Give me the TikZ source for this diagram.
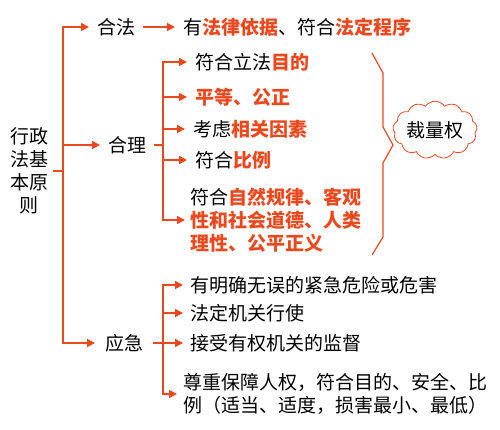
\documentclass[tikz,border=0pt]{standalone}
\usepackage{fontspec}
\setmainfont{Noto Sans CJK SC}
\usetikzlibrary{arrows.meta,shapes.symbols}
\definecolor{hot}{RGB}{236,72,30}
\newcommand{\rd}[1]{{\color{hot}\bfseries #1}}
\newcommand{\fs}{\fontsize{19}{23}\selectfont}
\begin{document}
\begin{tikzpicture}[x=1pt,y=-1pt,
  conn/.style={draw=hot, line width=1.6pt},
  arr/.style={conn, -{Triangle[length=8pt,width=8pt]}},
  lbl/.style={anchor=west, inner xsep=8pt, inner ysep=1pt, font=\fs, align=left},
  ]
\useasboundingbox (0,0) rectangle (500,430);
% root
\node[font=\fs, align=center, inner xsep=5pt, inner ysep=0pt] (root) at (29,171) {行政\\法基\\本原\\则};
% level 1
\node[lbl] (hefa) at (89,27) {合法};
\node[lbl] (hefar) at (175,27) {有\rd{法律依据}、符合\rd{法定程序}};
\node[lbl] (heli) at (100,145) {合理};
\node[lbl, inner xsep=10pt] (yingji) at (95,343) {应急};
% heli items
\node[lbl] (l1) at (187,62) {符合立法\rd{目的}};
\node[lbl] (l2) at (187,97) {\rd{平等、公正}};
\node[lbl] (l3) at (185,129) {考虑\rd{相关因素}};
\node[lbl] (l4) at (187,160) {符合\rd{比例}};
\node[lbl, inner xsep=5pt] (l5) at (185,220) {符合\rd{自然规律、客观}\\\rd{性和社会道德、人类}\\\rd{理性、公平正义}};
% yingji items
\node[lbl, inner xsep=7pt] (y1) at (183,285) {有明确无误的紧急危险或危害};
\node[lbl, inner xsep=7pt] (y2) at (183,313) {法定机关行使};
\node[lbl, inner xsep=7pt] (y3) at (183,343) {接受有权机关的监督};
\node[lbl, inner xsep=6pt] (y4) at (177,394) {尊重保障人权，符合目的、安全、比\\例（适当、适度，损害最小、最低）};
% cloud
\node[cloud, draw=hot, line width=0.8pt, cloud puffs=13, cloud puff arc=110, aspect=1.65,
      inner sep=0pt, minimum width=76pt, minimum height=46pt, font=\fs] (cl) at (435,130) {裁量权};
% connectors
\coordinate (tr) at (63,171);
\coordinate (hj) at (163,145);
\coordinate (yj) at (163,343);
\draw[conn] (root.east) -- (tr);
\draw[arr] (tr) |- (hefa.west);
\draw[arr] (tr) |- (yingji.west);
\draw[arr] (heli.west -| tr) -- (heli.west);
\draw[arr] (hefa.east) -- (hefar.west);
\draw[conn] (heli.east) -- (hj);
\draw[arr] (hj) |- (l1.west);
\draw[arr] (hj) |- (l2.west);
\draw[arr] (hj) |- (l3.west);
\draw[arr] (hj) |- (l4.west);
\draw[arr] (hj) |- (l5.west);
\draw[conn] (yingji.east) -- (yj);
\draw[arr] (yj) |- (y1.west);
\draw[arr] (yj) |- (y2.west);
\draw[arr] (yj) -- (y3.west);
\draw[arr] (yj) |- (y4.west);
% bracket
\draw[hot, line width=1.2pt, line join=miter] (372,53) -- (383,73) -- (383,127) -- (393,145) -- (383,163) -- (383,237) -- (372,255);
\end{tikzpicture}
\end{document}
